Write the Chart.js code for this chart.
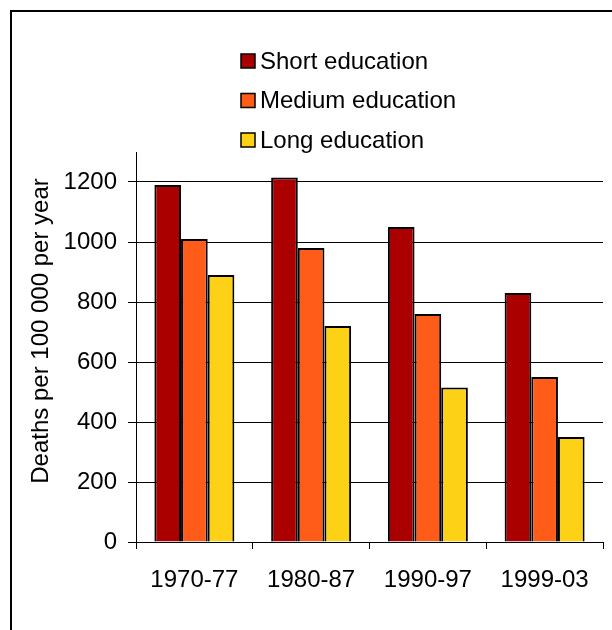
<!DOCTYPE html>
<html>
<head>
<meta charset="utf-8">
<script src="https://cdn.jsdelivr.net/npm/chart.js@4/dist/chart.umd.min.js"></script>
<style>
  html, body { margin: 0; padding: 0; background: #fff; }
  #wrap { width: 612px; height: 630px; }
</style>
</head>
<body>
<div id="wrap">
  <canvas id="myChartBar" width="612" height="630"></canvas>
</div>

<script>
// data
var categories = ['1970-77', '1980-87', '1990-97', '1999-03'];
var seriesNames = ['Short education', 'Medium education', 'Long education'];
var shortEdu = [1190, 1215, 1050, 830];
var mediumEdu = [1010, 980, 760, 550];
var longEdu = [890, 720, 515, 350];
var yMax = 1300;
var yStep = 200;
var yTitle = 'Deaths per 100 000 per year';

var colors = ['#AA0000', '#FF5B19', '#FCD116'];
var FONT = '"Liberation Sans", Arial, sans-serif';
var FSIZE = 24;

// frame, legend and rotated y title drawn by hand
var extras = {
    id: 'extras',
    beforeDraw: function (chart) {
        var ctx = chart.ctx;
        ctx.save();
        ctx.fillStyle = '#fff';
        ctx.fillRect(0, 0, chart.width, chart.height);
        ctx.strokeStyle = '#000';
        ctx.lineWidth = 2;
        ctx.strokeRect(11, 11, 800, 800);
        ctx.restore();
    },
    afterDraw: function (chart) {
        var ctx = chart.ctx;
        ctx.save();
        ctx.font = FSIZE + 'px ' + FONT;
        ctx.textBaseline = 'middle';
        ctx.textAlign = 'left';
        var rows = [61, 100.5, 140];
        for (var i = 0; i < chart.data.datasets.length; i++) {
            var ds = chart.data.datasets[i];
            ctx.fillStyle = ds.backgroundColor;
            ctx.fillRect(241, rows[i] - 7, 14, 14);
            ctx.strokeStyle = '#000';
            ctx.lineWidth = 1.5;
            ctx.strokeRect(241, rows[i] - 7, 14, 14);
            ctx.fillStyle = '#000';
            ctx.fillText(ds.label, 260, rows[i] + 1);
        }
        ctx.translate(41, 331);
        ctx.rotate(-Math.PI / 2);
        ctx.textAlign = 'center';
        ctx.fillText(yTitle, 0, 0);
        ctx.restore();
    }
};

var ctx_1 = document.getElementById('myChartBar').getContext('2d');
var values = [shortEdu, mediumEdu, longEdu];
var datasets = [];
for (var i = 0; i < seriesNames.length; i++) {
    datasets.push({
        label: seriesNames[i],
        data: values[i],
        backgroundColor: colors[i],
        borderColor: '#000',
        borderWidth: 2,
        barPercentage: 1,
        categoryPercentage: 0.685
    });
}

var myBarChart = new Chart(ctx_1, {
    type: 'bar',
    data: { labels: categories, datasets: datasets },
    plugins: [extras],
    options: {
        responsive: false,
        animation: false,
        layout: { padding: { left: 10, top: 152, right: 9, bottom: 0 } },
        plugins: {
            legend: { display: false },
            tooltip: { enabled: false }
        },
        scales: {
            x: {
                afterFit: function (scale) { scale.height = 88; },
                grid: { drawOnChartArea: false, drawTicks: true, tickLength: 7, color: '#000', lineWidth: 1 },
                border: { color: '#000', width: 1 },
                ticks: { color: '#000', font: { family: FONT, size: FSIZE }, padding: 17, maxRotation: 0 }
            },
            y: {
                min: 0,
                max: yMax,
                afterFit: function (scale) { scale.width = 126; },
                afterBuildTicks: function (scale) {
                    scale.ticks = scale.ticks.filter(function (t) { return t.value % yStep === 0; });
                },
                grid: { color: '#000', lineWidth: 1, tickLength: 8 },
                border: { color: '#000', width: 1 },
                ticks: {
                    stepSize: yStep, color: '#000', font: { family: FONT, size: FSIZE }, padding: 11,
                    callback: function (v) { return String(v); }
                }
            }
        }
    }
});
</script>
</body>
</html>
